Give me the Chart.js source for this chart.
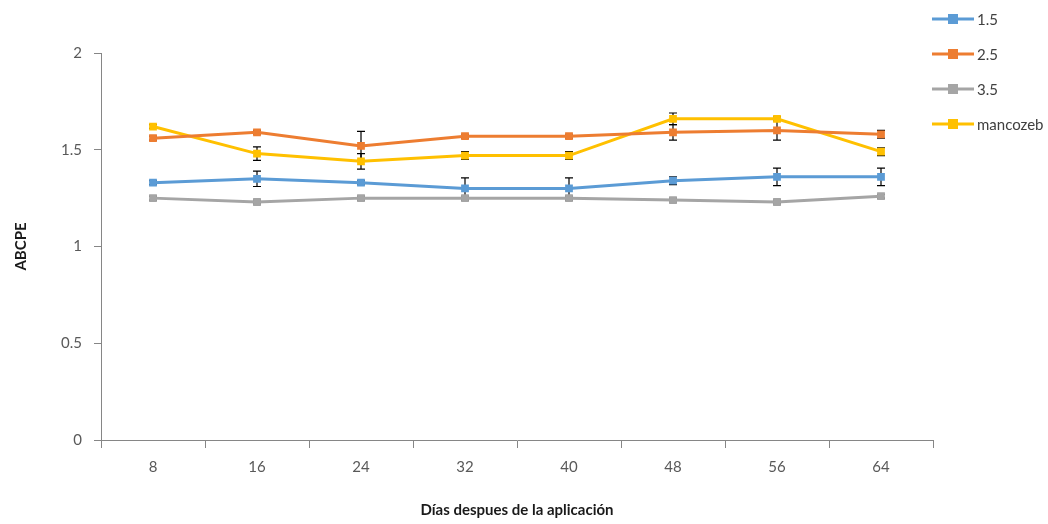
<!DOCTYPE html>
<html>
<head>
<meta charset="utf-8">
<script src="https://cdn.jsdelivr.net/npm/chart.js@4.4.0/dist/chart.umd.min.js"></script>
<style>
html,body{margin:0;padding:0;background:#fff;}
#wrap{width:1048px;height:524px;position:relative;}
</style>
</head>
<body>
<div id="wrap"><canvas id="c" width="1048" height="524"></canvas></div>
<script>
const categories = ["8","16","24","32","40","48","56","64"];
const seriesNames = ["1.5","2.5","3.5","mancozeb"];
const s15 = [1.33,1.35,1.33,1.30,1.30,1.34,1.36,1.36];
const s25 = [1.56,1.59,1.52,1.57,1.57,1.59,1.60,1.58];
const s35 = [1.25,1.23,1.25,1.25,1.25,1.24,1.23,1.26];
const sMan = [1.62,1.48,1.44,1.47,1.47,1.66,1.66,1.49];
const e15 = [0.01,0.04,0.01,0.055,0.055,0.02,0.045,0.045];
const e25 = [0.01,0.01,0.075,0.01,0.01,0.04,0.05,0.02];
const e35 = [0.01,0.01,0.01,0.01,0.01,0.01,0.01,0.01];
const eMan = [0.01,0.035,0.04,0.02,0.02,0.03,0.01,0.02];
const yTicks = [0,0.5,1,1.5,2];
const yTickLabels = ["0","0.5","1","1.5","2"];
const colors = ["#5B9BD5","#ED7D31","#A5A5A5","#FFC000"];

const FONT = "Lato, 'Open Sans', sans-serif";

const errorBars = {
  id:'errorBars',
  beforeDatasetsDraw(chart){
    const ctx = chart.ctx, y = chart.scales.y, x = chart.scales.x;
    ctx.save();
    ctx.strokeStyle = '#000';
    ctx.lineWidth = 1.2;
    chart.data.datasets.forEach((ds)=>{
      ds.data.forEach((v,i)=>{
        const e = ds.errors[i];
        const px = x.getPixelForValue(i);
        const top = y.getPixelForValue(v+e), bot = y.getPixelForValue(v-e);
        ctx.beginPath();
        ctx.moveTo(px,top); ctx.lineTo(px,bot);
        ctx.moveTo(px-4,top); ctx.lineTo(px+4,top);
        ctx.moveTo(px-4,bot); ctx.lineTo(px+4,bot);
        ctx.stroke();
      });
    });
    ctx.restore();
  }
};

const legendPlugin = {
  id:'customLegend',
  afterDraw(chart){
    const ctx = chart.ctx;
    ctx.save();
    const ys = [19,54,89,124];
    chart.data.datasets.forEach((ds,i)=>{
      const y = ys[i];
      ctx.strokeStyle = ds.borderColor;
      ctx.lineWidth = 3;
      ctx.beginPath(); ctx.moveTo(932,y); ctx.lineTo(974,y); ctx.stroke();
      ctx.fillStyle = ds.backgroundColor;
      ctx.fillRect(948,y-5,10,10);
      ctx.fillStyle = '#404040';
      ctx.font = "15px " + FONT;
      ctx.textBaseline = 'middle';
      ctx.textAlign = 'left';
      ctx.fillText(ds.label, 977, y+1);
    });
    ctx.restore();
  }
};

const datasets = [s15,s25,s35,sMan].map((d,i)=>({
  label: seriesNames[i],
  data: d,
  errors: [e15,e25,e35,eMan][i],
  borderColor: colors[i],
  backgroundColor: colors[i],
  borderWidth: 3,
  pointStyle: 'rect',
  pointRadius: 5.5,
  pointHoverRadius: 5.5,
  pointBorderWidth: 0,
  tension: 0,
  fill: false
}));

new Chart(document.getElementById('c'), {
  type:'line',
  data:{labels:categories, datasets},
  plugins:[errorBars, legendPlugin],
  options:{
    responsive:false,
    animation:false,
    devicePixelRatio:1,
    layout:{padding:{left:0,right:115,top:53,bottom:0}},
    plugins:{legend:{display:false},tooltip:{enabled:false}},
    scales:{
      x:{
        type:'category',
        offset:true,
        grid:{offset:true,drawOnChartArea:false,drawTicks:true,tickLength:8,color:'#868686'},
        border:{color:'#868686',width:1},
        ticks:{color:'#595959',font:{family:FONT,size:15},padding:10,maxRotation:0},
        title:{display:true,text:'Días despues de la aplicación',color:'#1a1a1a',font:{family:FONT,size:15,weight:'bold'},padding:{top:0,bottom:5}},
        afterFit(s){ s.height = 84; }
      },
      y:{
        min:0,max:2,
        afterBuildTicks(s){ s.ticks = yTicks.map(v=>({value:v})); },
        grid:{drawOnChartArea:false,drawTicks:true,tickLength:7,color:'#868686'},
        border:{color:'#868686',width:1},
        ticks:{color:'#595959',font:{family:FONT,size:15},padding:12,
          callback(v){ const k = yTicks.indexOf(v); return k>=0 ? yTickLabels[k] : ''; }},
        title:{display:true,text:'ABCPE',color:'#1a1a1a',font:{family:FONT,size:15,weight:'bold'},padding:{top:12,bottom:0}},
        afterFit(s){ s.width = 101; }
      }
    }
  }
});
</script>
</body>
</html>
